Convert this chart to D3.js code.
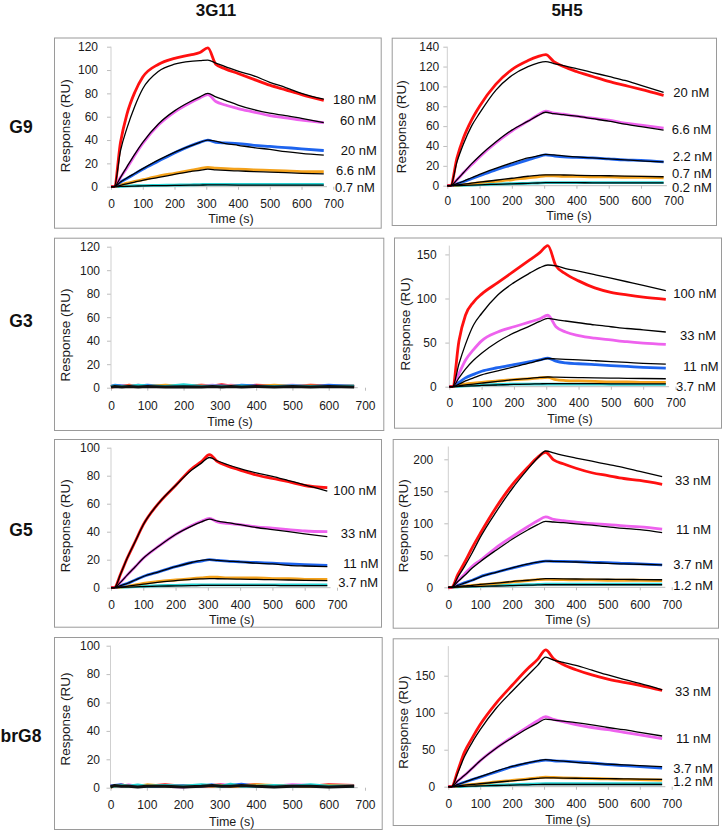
<!DOCTYPE html>
<html><head><meta charset="utf-8">
<script src="https://cdn.jsdelivr.net/npm/d3@7"></script>
<style>
body{margin:0;background:#fff}
svg text{font-family:"Liberation Sans",Arial,Helvetica,sans-serif}
</style>
</head><body>
<svg id="chart" width="722" height="831"></svg>
<script>
// ---------------- DATA ----------------
const columns = ["3G11", "5H5"];
const rows = ["G9", "G3", "G5", "brG8"];
const times = [0,10,30,50,75,100,150,200,250,280,305,330,360,400,450,500,550,600,670];
const xTicks = [0,100,200,300,400,500,600,700];
const seriesNames = ["red","magenta","blue","orange","cyan"];

// G9 / 3G11
const g9_3g11_ticks = [0,20,40,60,80,100,120];
const g9_3g11_conc = ["180 nM","60 nM","20 nM","6.6 nM","0.7 nM"];
const g9_3g11_obs = [
  [0,0,38,62,81,94,105,110,113,115,119,105,101,97,92,87,83,79,74],
  [0,0,8,16,27,37,53,64,72,76,79,73,70,67,64,61,59,57,55],
  [0,0,4,7,11,15,22,29,35,38,40,38,37.5,37,35.5,34.5,33.5,32.5,31],
  [0,0,1.5,3,4.5,6,9,11.5,14,15.5,16.5,16,15.5,15,14.5,14,13.5,13,13],
  [0,0,0.3,0.5,0.8,1,1.2,1.4,1.6,1.8,2,2,2,2,2,2,2,2,2]
];
const g9_3g11_fit = [
  [0,0,31,50,69,84,99,105,107.5,108,108.5,106,103,99,95,89.5,85,80,75],
  [0,0,8,17,28,38,54,65,73,77,80,77,74,70,66,63,61,58.5,55],
  [0,0,4,7.5,11.5,15.5,23,29.5,35,38,40,39,37,35.5,33.5,32,30,28.5,27],
  [0,0,1.2,2.5,4,5.5,8,10.5,13,14,15,14.5,14,13.5,13,12.5,12,11.5,11],
  [0,0,0.2,0.3,0.5,0.7,0.9,1.1,1.3,1.4,1.5,1.5,1.5,1.4,1.4,1.4,1.3,1.3,1.3]
];

// G9 / 5H5
const g9_5h5_ticks = [0,20,40,60,80,100,120,140];
const g9_5h5_conc = ["20 nM","6.6 nM","2.2 nM","0.7 nM","0.2 nM"];
const g9_5h5_obs = [
  [0,0,28,48,66,80,102,117,126,130,132,125,120,115,110,105,101,97,91],
  [0,0,6,13,21,29,43,55,65,71,75,73,72,70,68,66,63,61,58],
  [0,0,2,4,7,10,16,21,26,29,31,30,29,28.5,28,27,26,25.5,24],
  [0,0,0.5,1,2,3,4.5,6,8,9,10,10,9.5,9.5,9,9,8.5,8.5,8],
  [0,0,0.2,0.4,0.7,1,1.5,2,2.4,2.7,3,3,3,3,3,3,3,3,3]
];
const g9_5h5_fit = [
  [0,0,24,42,60,73,96,111,120,123.5,125,123,121,118,114,110,106,101,94],
  [0,0,6,13,22,30,44,56,65,70.5,74,72.5,71.5,70,67.5,65,62,59.5,56],
  [0,0,2,4.5,8,11.5,17.5,23,28,30,31.5,31,30,29,28,27,26,25,24],
  [0,0,0.8,1.5,2.5,3.5,5.5,7.5,9.5,10.5,11,11,10.8,10.5,10.2,10,9.7,9.4,9],
  [0,0,0.2,0.4,0.6,0.9,1.4,1.9,2.4,2.7,3,3,3,3,2.9,2.9,2.8,2.8,2.8]
];

// G3 / 3G11 (no binding: baseline noise)
const g3_3g11_ticks = [0,20,40,60,80,100,120];
const g3_3g11_noise = [
  [1,1.5,1,2,1,1.5,1,1.2,2,1.5,2.5,1.5,1,2,1.5,1,2,1.5,1.5],
  [0.5,1,1.5,1,2,1,1.5,1,1.5,2,1,2,1.5,1,1.5,2,1,1.5,1],
  [1,2,1.5,1,1.5,2,1,1.5,1,1,1.5,1,2,1.5,1,1.5,1,2,1],
  [0.5,1,1,1.5,1,1,2,1,1.5,1,1,1.5,1,1,2,1,1.5,1,1],
  [1,1.5,1,1,2,1.5,1,2.5,1,1.5,1,1,1.5,1,1,1.5,1,1,1.5],
  [0.5,1,0.5,1,0.5,1,0.5,0.8,0.5,1,0.5,1,0.5,1,0.5,1,0.5,1,0.5]
];

// G3 / 5H5
const g3_5h5_ticks = [0,50,100,150];
const g3_5h5_conc = ["100 nM","33 nM","11 nM","3.7 nM"];
const g3_5h5_obs = [
  [0,0,52,81,96,105,118,131,144,152,160,137,128,120,112,107,104,101.5,99],
  [0,0,15,30,42,52,62,68,73.5,77,81,68,62,58,55,53,51,49.5,48],
  [0,0,5,10,14,17.5,21.5,25,28.5,30.5,32.5,29,27,26,25,24,23,22,21],
  [0,0,2,3,4,5,6.5,8,9,10,10.5,8,7,6.5,6,5.5,5.5,5,5],
  [0,0,0.5,1,1.5,2,2.5,3,3,3,3,3,3,3,3,2.8,2.8,2.8,2.8]
];
const g3_5h5_fit = [
  [0,0,26,48,70,83,104,118,129,135,138,137,134,131,127,123,119,115,109],
  [0,0,10,20,30,38,51,61,69,74,77.5,76,74.5,72.5,70,68,66,64.5,62],
  [0,0,3,6.5,10,13.5,18,22.5,27,30,32,31.5,31,30.5,29.5,28.5,27.5,26.5,25.5],
  [0,0,1,2,3,4,6,8,9.5,10.5,11,10.8,10.5,10.3,10,9.8,9.5,9.3,9],
  [0,0,0.3,0.6,1,1.4,2,2.6,3,3.3,3.5,3.5,3.5,3.4,3.4,3.3,3.3,3.2,3.2]
];

// G5 / 3G11
const g5_3g11_ticks = [0,20,40,60,80,100];
const g5_3g11_conc = ["100 nM","33 nM","11 nM","3.7 nM"];
const g5_3g11_obs = [
  [0,0,10,21,33,45,61,73,85,90,95,90,87,84,80.5,78,75.7,73,71.5],
  [0,0,4,9,15,21,30,38,44.5,47.5,49.5,47,46,45,43.5,42.5,41.5,40.5,40],
  [0,0,1.5,3,5.5,8,11.5,15,18,19,20,19.5,19,18.5,18,17.5,17,16.5,16],
  [0,0,0.5,1,2,3,4.5,5.5,6.5,7,7.5,7.5,7,7,7,6.5,6.5,6,6],
  [0,0,0.3,0.5,0.8,1,1.4,1.7,2,2,2,2,2,2,2,2,2,2,2]
];
const g5_3g11_fit = [
  [0,0,10,21,33,45,61,73,84,89,93,90.5,88,85,82,79.5,76.5,73.5,69],
  [0,0,4,9,15,21,30,38,44,47,49,47.5,46.5,45,43,41.5,40,38.5,36.5],
  [0,0,1.5,3,5.5,8,11.5,15,18,19.5,20,19.5,19,18.5,17.5,17,16,15.5,15],
  [0,0,0.5,1,1.8,2.5,4,5,6,6.3,6.5,6.4,6.3,6.1,5.9,5.7,5.5,5.3,5],
  [0,0,0.2,0.4,0.6,0.8,1.1,1.3,1.5,1.6,1.7,1.7,1.7,1.6,1.6,1.6,1.5,1.5,1.5]
];

// G5 / 5H5
const g5_5h5_ticks = [0,50,100,150,200];
const g5_5h5_conc = ["33 nM","11 nM","3.7 nM","1.2 nM"];
const g5_5h5_obs = [
  [0,0,20,38,62,84,125,160,188,203,211,199,193,186,179,174.5,170,167,161],
  [0,0,10,20,33,42,62,79,95,104,110,106,104,102,99.5,98,96,94.5,91],
  [0,0,3,7,11,16.5,23.5,30,36,39,41,40.5,40.5,40,39,38.5,37.5,36.5,35],
  [0,0,1,2,3,4,6,8.5,10.5,12,12.5,12,12,11.5,11.5,11,11,11,10.5],
  [0,0,0.5,1,1.5,2,3,3.5,4,4.5,5,5,5,5,5,5,5,5,5]
];
const g5_5h5_fit = [
  [0,0,16,32,54,78,118,154,185,202,213,210,206,202,197,192,187,181,173],
  [0,0,9,18,30,40,58,75,90,98,103,102,101,99,97,94.5,92,90,85.5],
  [0,0,3,6.5,11,16,23.5,30.5,36.5,39.5,41,40.5,40,39.5,38.5,37.5,36.5,36,35],
  [0,0,1,2,3,4.5,6.5,9,11,12.5,13.5,13.4,13.2,13,12.8,12.6,12.3,12.1,11.8],
  [0,0,0.3,0.6,1,1.4,2,2.7,3.3,3.7,4,4,4,4,4,4,4,4,4]
];

// brG8 / 3G11 (no binding: baseline noise)
const brg8_3g11_ticks = [0,20,40,60,80,100];
const brg8_3g11_noise = [
  [1.5,1,2,1,1.5,1,2,1,1,1.5,2,1,1.5,2,1,1.5,1,2,1.5],
  [1,1.5,1,2,1,1.5,1,0.5,1.5,1,2,1.5,1,1.5,1,2,1.5,1,1],
  [1,1.5,2,1,1.5,1,1,1.5,1,2,1,1.5,2.5,1,1.5,1,1,1.5,1],
  [0.5,1,1.5,1,1,2,1,1,1.5,1,1.5,1,1,2,1.5,1,1,1.5,1],
  [1,1,1.5,1,2,1,1.5,1,2,1.5,1,2.5,1,1,1.5,1,2,1,1],
  [0.5,1.5,1,1,0.5,1,1,0.5,1,1.5,1,1,1.5,1,0.5,1,1,0.5,1]
];

// brG8 / 5H5
const brg8_5h5_ticks = [0,50,100,150];
const brg8_5h5_conc = ["33 nM","11 nM","3.7 nM","1.2 nM"];
const brg8_5h5_obs = [
  [0,0,22,46,66,84,113,137,160,172,185,173,165,158,151,145.5,141,137,130],
  [0,0,8,15,25,35,52,67,81,89,94.6,91,88,84,80,77,73.5,70,65],
  [0,0,3,6,9.5,13,20,27,32,34.5,36,35,34.5,33.5,32,30,28.5,27,25],
  [0,0,1,2,3,4,6.5,8.5,10.5,12,13,12.5,12,11.5,11,10.5,10,9.5,9],
  [0,0,0.3,0.6,1,1.4,2,2.7,3.3,3.7,4,4,4,4,4,4,4,4,4]
];
const brg8_5h5_fit = [
  [0,0,19,40,60,77,106,129,151,164,175,171,168,164,157.5,151,145,139.6,131],
  [0,0,8,15,25,35,52,66,79,86,91.4,90,88.5,86.5,83.5,80,77,73.5,68.5],
  [0,0,3,6,10,13.5,21,27.5,32.5,35,36.5,35.5,34.5,33,31.5,30.5,29.5,28.5,27],
  [0,0,1,2,3,4,6,8,10,11.2,12,11.8,11.6,11.4,11.2,10.9,10.6,10.3,10],
  [0,0,0.2,0.5,0.8,1.1,1.6,2.1,2.6,2.9,3,3,3,3,3,3,3,3,3]
];

// ---------------- STYLE / LAYOUT ----------------
const colors = {red:"#ff1010", magenta:"#ee62ee", blue:"#1e64ee", orange:"#f4a21c", cyan:"#26d2d2", black:"#000"};
const noiseColors = ["#ff1010","#ee62ee","#1e64ee","#f4a21c","#26d2d2","#111"];

const panels = [
  {frame:[54,37.5,380.7,227.7], xr:[111,333.3], yr:[186.7,46.7], yMax:120, ticks:g9_3g11_ticks, obs:g9_3g11_obs, fit:g9_3g11_fit, conc:g9_3g11_conc,
   concPos:[[333,99],[340,120.7],[340.7,150.7],[336,170.7],[335,187.7]], tickBase:208.5, tX:231, tBase:223, yGap:13, rX:65.7, rY:125.7},
  {frame:[391.7,37.7,716,225], xr:[447.3,673.3], yr:[185.7,46.7], yMax:140, ticks:g9_5h5_ticks, obs:g9_5h5_obs, fit:g9_5h5_fit, conc:g9_5h5_conc,
   concPos:[[673.3,92.7],[671.7,129],[672.7,156.7],[672,173],[672,187.3]], tickBase:205.5, tX:569, tBase:220, yGap:8, rX:401.7, rY:126.7},
  {frame:[54,237.7,383.3,430], xr:[111,365], yr:[387.7,246.7], yMax:120, ticks:g3_3g11_ticks, noise:g3_3g11_noise,
   tickBase:410.5, tX:230, tBase:426, yGap:11, rX:65.7, rY:335},
  {frame:[394,237.5,721,427.7], xr:[449.3,675.5], yr:[386.7,245.6], yMax:160, ticks:g3_5h5_ticks, obs:g3_5h5_obs, fit:g3_5h5_fit, conc:g3_5h5_conc,
   concPos:[[673.3,293.3],[680,335],[683.3,366.7],[676,386.7]], tickBase:407.5, tX:570, tBase:423, yGap:12.6, rX:405, rY:324},
  {frame:[54,439,381,626.7], xr:[111,337], yr:[587.7,447.7], yMax:100, ticks:g5_3g11_ticks, obs:g5_3g11_obs, fit:g5_3g11_fit, conc:g5_3g11_conc,
   concPos:[[333.3,490],[340.7,533.3],[343.3,563.3],[338.3,582.7]], tickBase:609, tX:231.7, tBase:624, yGap:11, rX:65.7, rY:525.7},
  {frame:[392.7,439,718,627.7], xr:[448.3,671.7], yr:[587.3,446.5], yMax:220, ticks:g5_5h5_ticks, obs:g5_5h5_obs, fit:g5_5h5_fit, conc:g5_5h5_conc,
   concPos:[[675,480],[676,529],[673.3,564.3],[673.3,585]], tickBase:609, tX:568, tBase:624, yGap:15, rX:403.3, rY:525.7},
  {frame:[54,637,381.7,829], xr:[110.5,365], yr:[787.7,645.7], yMax:100, ticks:brg8_3g11_ticks, noise:brg8_3g11_noise,
   tickBase:809, tX:231.7, tBase:826, yGap:10.5, rX:65, rY:719},
  {frame:[392.7,638.3,718,825], xr:[448.3,671.7], yr:[786.7,646.1], yMax:190, ticks:brg8_5h5_ticks, obs:brg8_5h5_obs, fit:brg8_5h5_fit, conc:brg8_5h5_conc,
   concPos:[[675,691.7],[676,738.3],[673.3,768.3],[673.3,781.7]], tickBase:808.5, tX:568, tBase:823.5, yGap:13, rX:403.3, rY:722.3}
];

// ---------------- DRAW ----------------
const svg = d3.select("#chart");
svg.append("rect").attr("width",722).attr("height",831).attr("fill","#fff");

const TICK_FS = 12;
const colX = [216, 567];
columns.forEach((c,i)=>{
  svg.append("text").attr("x",colX[i]).attr("y",15.5).attr("text-anchor","middle")
    .attr("font-size",17).attr("font-weight","bold").attr("fill","#111").text(c);
});
const rowY = [132.7, 326.7, 536, 741.7];
rows.forEach((r,i)=>{
  svg.append("text").attr("x",21).attr("y",rowY[i]).attr("text-anchor","middle")
    .attr("font-size",17.5).attr("font-weight","bold").attr("fill","#111").text(r);
});

panels.forEach(p=>{
  const g = svg.append("g");
  const [fx0,fy0,fx1,fy1] = p.frame;
  g.append("rect").attr("x",fx0+0.5).attr("y",fy0+0.5).attr("width",fx1-fx0).attr("height",fy1-fy0)
    .attr("fill","#fff").attr("stroke","#9a9a9a").attr("stroke-width",1);

  const x = d3.scaleLinear().domain([0,700]).range(p.xr);
  const y = d3.scaleLinear().domain([0,p.yMax]).range(p.yr);

  // x axis
  const xa = d3.axisBottom(x).tickValues(xTicks).tickSize(3).tickSizeOuter(0)
      .tickPadding(p.tickBase - p.yr[0] - 3 - TICK_FS*0.71);
  const gx = g.append("g").attr("transform",`translate(0,${p.yr[0]})`).call(xa);
  gx.select(".domain").remove();
  gx.selectAll(".tick line").attr("stroke","#bdbdbd");
  gx.selectAll(".tick text").attr("font-size",TICK_FS).attr("fill","#1a1a1a")
    .attr("font-family","'Liberation Sans',Arial,sans-serif");
  g.append("line").attr("x1",x(0)).attr("x2",x(680)).attr("y1",p.yr[0]).attr("y2",p.yr[0])
    .attr("stroke","#bdbdbd").attr("stroke-width",1);

  // y axis
  const ya = d3.axisLeft(y).tickValues(p.ticks).tickSize(4).tickSizeOuter(0).tickPadding(p.yGap-4);
  const gy = g.append("g").attr("transform",`translate(${p.xr[0]},0)`).call(ya);
  gy.select(".domain").remove();
  gy.selectAll(".tick line").attr("stroke","#bdbdbd");
  gy.selectAll(".tick text").attr("font-size",TICK_FS).attr("fill","#1a1a1a")
    .attr("font-family","'Liberation Sans',Arial,sans-serif");
  g.append("line").attr("x1",p.xr[0]).attr("x2",p.xr[0]).attr("y1",p.yr[0]).attr("y2",y(p.yMax))
    .attr("stroke","#cfcfcf").attr("stroke-width",1);

  // titles
  g.append("text").attr("x",p.tX).attr("y",p.tBase).attr("text-anchor","middle")
    .attr("font-size",12.5).attr("fill","#1a1a1a").text("Time (s)");
  g.append("text").attr("transform",`translate(${p.rX},${p.rY}) rotate(-90)`)
    .attr("text-anchor","middle").attr("dominant-baseline","central")
    .attr("font-size",13.5).attr("fill","#1a1a1a").text("Response (RU)");

  const line = d3.line().x((d,i)=>x(times[i])).y(d=>y(d));

  if (p.noise) {
    line.curve(d3.curveLinear);
    p.noise.forEach((s,k)=>{
      g.append("path").attr("d",line(s)).attr("fill","none")
        .attr("stroke",noiseColors[k]).attr("stroke-width",3).attr("stroke-linejoin","bevel");
    });
    return;
  }
  line.curve(d3.curveMonotoneX);
  for (let k=p.obs.length-1;k>=0;k--){
    g.append("path").attr("d",line(p.obs[k])).attr("fill","none")
      .attr("stroke",colors[seriesNames[k]]).attr("stroke-width",2.8).attr("stroke-linejoin","round");
  }
  p.fit.forEach(s=>{
    g.append("path").attr("d",line(s)).attr("fill","none")
      .attr("stroke","#000").attr("stroke-width",1.3);
  });
  p.conc.forEach((c,k)=>{
    g.append("text").attr("x",p.concPos[k][0]).attr("y",p.concPos[k][1])
      .attr("dominant-baseline","central").attr("font-size",13).attr("fill","#111").text(c);
  });
});
</script>
</body></html>
